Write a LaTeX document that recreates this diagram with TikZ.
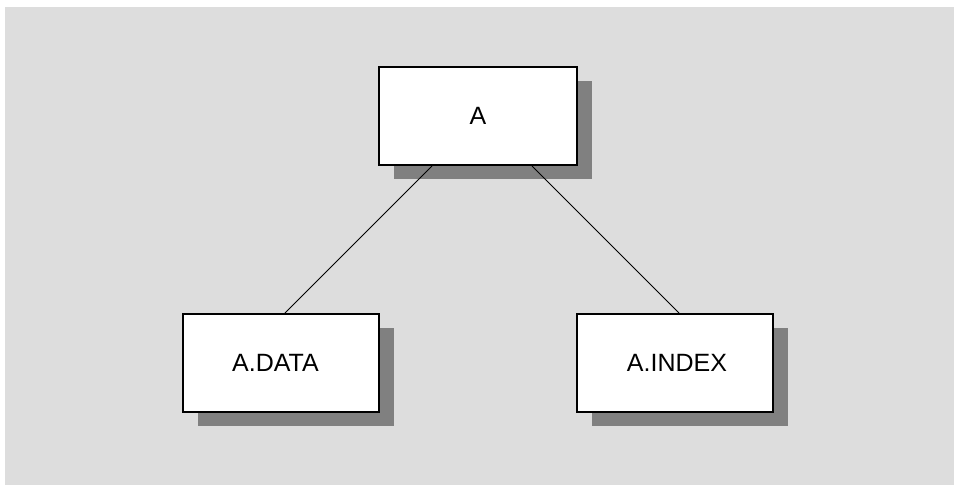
\documentclass[tikz,border=0pt]{standalone}
\usepackage{fontspec}
\setmainfont{Liberation Sans}
\usetikzlibrary{shadows,calc}
\definecolor{panelgray}{RGB}{221,221,221}
\definecolor{shadowgray}{RGB}{128,128,128}
\tikzset{
  unitbox/.style={draw=black, line width=2pt, fill=white, rectangle,
    minimum height=98pt, inner sep=0pt,
    font=\fontsize{25}{30}\selectfont,
    drop shadow={shadow xshift=15pt, shadow yshift=-14pt, fill=shadowgray, opacity=1}},
  link/.style={draw=black, line width=0.9pt}
}
\begin{document}
\begin{tikzpicture}[x=1pt, y=-1pt]
  \useasboundingbox (0,0) rectangle (954,485);
  \fill[panelgray] (5,7) rectangle (954,485);

  \node[unitbox, minimum width=198pt] (a) at (478,116) {A};
  \node[unitbox, minimum width=196pt] (adata) at (281,363) {\hspace*{-11pt}A.DATA};
  \node[unitbox, minimum width=196pt] (aindex) at (675,363) {A.INDEX\hspace*{-4pt}};

  \draw[link] ($(a.south)+(-46,0)$) -- ($(adata.north)+(4,0)$);
  \draw[link] ($(a.south)+(54,0)$) -- ($(aindex.north)+(4,0)$);
\end{tikzpicture}
\end{document}
